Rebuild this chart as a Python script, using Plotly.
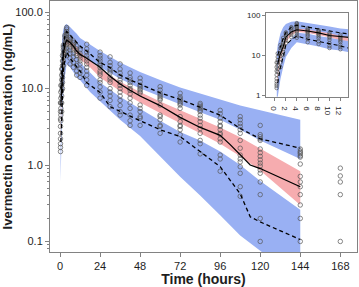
import plotly.graph_objects as go

# ---- simulated prediction bands (VPC) ----
band_t = [0.33, 0.5, 1, 1.5, 2, 3, 4, 6, 8, 10, 12, 18, 24, 36, 48, 60, 72, 84, 96, 108, 120, 144]
p95_hi = [12, 18, 35, 50, 60, 68, 70, 64, 58, 52, 46, 38, 31, 22, 16.5, 13, 10.3, 8.6, 7.1, 6.0, 5.2, 3.9]
p95_lo = [3, 5, 12, 22, 30, 38, 40, 37, 33, 30, 27, 23, 19, 13.5, 10, 7.8, 6.2, 4.9, 3.9, 2.9, 2.1, 1.2]
p50_hi = [2.5, 4, 10, 17, 26, 38, 46, 43, 39, 35, 30, 23, 18, 12.3, 9.0, 6.8, 5.2, 4.0, 3.1, 2.3, 1.65, 0.83]
p50_lo = [1.8, 3, 7.5, 13, 21, 32, 38, 36, 32, 28, 24, 19, 14, 9.3, 6.6, 4.8, 3.5, 2.6, 1.9, 1.3, 0.85, 0.30]
p05_hi = [1.6, 2.5, 6, 11, 17, 26, 36, 34, 30, 26, 22, 16, 12, 7.8, 5.4, 3.8, 2.7, 2.1, 1.5, 1.0, 0.62, 0.26]
p05_lo = [0.6, 0.9, 2.5, 5, 9, 15, 21, 19, 16.5, 14, 13, 9, 6.8, 3.9, 2.4, 1.3, 0.7, 0.4, 0.22, 0.12, 0.075, 0.03]

# ---- observed percentiles ----
med_t = [0.5, 1, 1.5, 2, 3, 4, 6, 8, 10, 12, 16, 24, 30, 36, 42, 48, 60, 72, 84, 96, 102, 108, 114, 120, 144]
med_c = [6, 11, 16, 28, 38, 43, 40, 36, 31, 28, 25, 19, 14.5, 11.5, 9.5, 8.0, 6.0, 4.2, 3.1, 2.45, 1.85, 1.38, 1.0, 0.9, 0.52]
up_t = [0.5, 1, 1.5, 2, 3, 4, 6, 8, 10, 12, 16, 24, 30, 36, 42, 48, 60, 72, 84, 96, 108, 120, 144]
up_c = [10, 17, 26, 37, 50, 56, 50, 45, 40, 36, 31, 22, 18.8, 15, 13, 11.5, 8.8, 7.2, 5.7, 4.5, 3.0, 2.2, 1.66]
lo_t = [0.5, 1, 1.5, 2, 3, 4, 6, 8, 10, 12, 16, 24, 30, 36, 42, 48, 60, 72, 84, 96, 108, 114, 120, 144]
lo_c = [2.0, 5, 9, 18, 24, 30, 25, 22, 19, 17, 12, 8.9, 5.8, 5.0, 4.4, 3.8, 2.9, 2.35, 1.5, 0.95, 0.42, 0.21, 0.18, 0.106]

# ---- observed concentrations by nominal time ----
obs_times = [0.3, 0.5, 1, 1.5, 2, 3, 4, 6, 8, 10, 12, 16, 24, 30, 36, 42, 48, 60, 72, 84, 96, 108, 120, 144, 168]
obs_conc = [
    [1.5, 1.7, 1.9, 2.2, 2.6, 3.2, 4, 5, 6.5],
    [3.8, 4.5, 5.5, 6.5, 7.5, 9, 11],
    [5, 6.5, 8, 9.5, 11, 13, 15, 18],
    [10, 12, 14, 16, 18, 20, 23, 27],
    [20, 23, 26, 29, 32, 35, 37],
    [28, 32, 36, 40, 44, 48, 50],
    [27, 30, 34, 38, 41, 44, 47, 50, 53, 56, 60, 63],
    [21, 25, 29, 32, 35, 38, 40, 42, 44, 47],
    [19, 22, 26, 29, 32, 34, 36, 38, 40, 42],
    [15, 17, 20, 24, 27, 29, 31, 33, 36],
    [14, 16, 18, 21, 23, 25, 27, 29, 32],
    [38, 33, 30, 27, 25, 23, 21, 19, 17, 15, 13, 11],
    [30, 27, 25, 23, 21, 20, 19, 17, 16, 15, 13, 12, 10.5, 9, 7.5],
    [26, 22, 20, 18, 17, 16, 14, 13, 12, 10, 9, 8, 7, 5.8],
    [21, 18, 16, 14.5, 13, 12, 11, 10, 9, 8, 7, 6, 5, 4.5],
    [16, 14, 13, 12, 11, 10, 9.5, 8.5, 7.5, 6.5, 5.5, 4.5, 3.8, 3.3],
    [13.7, 12.3, 11.1, 10.6, 10.0, 9.6, 9.1, 8.7, 6.1, 5.5, 5.0, 4.3, 4.1, 3.3],
    [10.6, 9.6, 8.7, 8.2, 7.8, 7.4, 7.1, 6.1, 4.5, 4.3, 3.9, 3.3, 3.2, 2.6],
    [8.7, 7.8, 7.4, 7.1, 6.7, 6.4, 6.1, 5.5, 4.3, 3.7, 3.3, 3.2, 2.9, 2.5, 2.0],
    [6.4, 6.1, 5.8, 5.5, 5.2, 5.0, 4.5, 4.1, 3.7, 3.3, 3.0, 2.6, 2.1, 1.9, 1.4],
    [5.2, 4.7, 4.1, 3.7, 3.3, 3.2, 2.9, 2.6, 2.5, 2.2, 2.0, 1.35, 1.2, 0.83],
    [4.3, 3.9, 3.5, 3.2, 2.9, 2.6, 2.1, 1.66, 1.35, 1.2, 1.1, 0.95, 0.78, 0.52, 0.39],
    [3.3, 2.5, 2.35, 2.2, 2.1, 1.62, 1.45, 1.3, 1.17, 1.06, 0.97, 0.86, 0.78, 0.60, 0.41, 0.2, 0.1],
    [1.62, 1.52, 1.46, 1.40, 1.32, 1.27, 1.03, 0.71, 0.60, 0.52, 0.41, 0.30, 0.20, 0.10],
    [0.91, 0.72, 0.60, 0.41, 0.10],
]

x_ticks = [0, 24, 48, 72, 96, 120, 144, 168]
y_ticks = [0.1, 1, 10, 100]
y_ticktext = ["0.1", "1.0", "10.0", "100.0"]
inset_x_ticks = [0, 2, 4, 6, 8, 10, 12]
inset_y_ticks = [1, 10, 100]
inset_y_ticktext = ["1", "10", "100"]

BLUE = "rgb(153,176,243)"
RED = "rgb(246,172,175)"
AX = "rgb(130,130,130)"
MK = "rgb(85,85,85)"
FONT = "Liberation Sans, Arial, sans-serif"

ox, oy = [], []
for t, cs in zip(obs_times, obs_conc):
    ox += [t] * len(cs)
    oy += cs

fig = go.Figure()


def add_all(xa, ya, msize, lw):
    for hi, lo, col in [(p95_hi, p95_lo, BLUE), (p05_hi, p05_lo, BLUE), (p50_hi, p50_lo, RED)]:
        fig.add_trace(go.Scatter(x=band_t + band_t[::-1], y=hi + lo[::-1], fill="toself",
                                 fillcolor=col, line=dict(width=0), mode="lines",
                                 hoverinfo="skip", xaxis=xa, yaxis=ya, showlegend=False))
    fig.add_trace(go.Scatter(x=ox, y=oy, mode="markers", xaxis=xa, yaxis=ya, showlegend=False,
                             marker=dict(symbol="circle-open", size=msize, color=MK, line=dict(width=0.7))))
    fig.add_trace(go.Scatter(x=med_t, y=med_c, mode="lines", xaxis=xa, yaxis=ya, showlegend=False,
                             line=dict(color="black", width=lw)))
    for tt, cc in [(up_t, up_c), (lo_t, lo_c)]:
        fig.add_trace(go.Scatter(x=tt, y=cc, mode="lines", xaxis=xa, yaxis=ya, showlegend=False,
                                 line=dict(color="black", width=lw, dash="4px,3px")))


add_all("x", "y", 4.5, 1.3)
add_all("x2", "y2", 3.5, 1.1)

minor_vals = [k * 10 ** e for e in (-2, -1, 0, 1, 2) for k in range(2, 10)]

fig.update_layout(
    width=359, height=287,
    margin=dict(l=50, r=2, t=1, b=35, autoexpand=False),
    paper_bgcolor="white", plot_bgcolor="white",
    font=dict(family=FONT, color="rgb(30,30,30)", size=11),
    xaxis=dict(range=[-6, 178], tickvals=x_ticks, ticks="outside", ticklen=4, tickcolor=AX,
               showline=True, linecolor=AX, linewidth=1, mirror=True, showgrid=False, zeroline=False,
               tickfont=dict(size=11), automargin=False,
               title=dict(text="<b>Time (hours)</b>", font=dict(size=14), standoff=1)),
    yaxis=dict(type="log", range=[-1.138, 2.146], tickvals=y_ticks, ticktext=y_ticktext,
               ticks="outside", ticklen=4, tickcolor=AX, automargin=False,
               minor=dict(tickvals=minor_vals, ticks="outside", ticklen=2, tickcolor=AX, showgrid=False),
               showline=True, linecolor=AX, linewidth=1, mirror=True, showgrid=False, zeroline=False,
               tickfont=dict(size=11),
               title=dict(text="<b>Ivermectin concentration (ng/mL)</b>", font=dict(size=13), standoff=3)),
    xaxis2=dict(domain=[0.7036, 0.9707], anchor="y2", range=[-1.65, 13.4], tickvals=inset_x_ticks,
                ticks="outside", ticklen=3, tickcolor=AX, showline=True, linecolor=AX, linewidth=1,
                mirror=True, showgrid=False, zeroline=False, tickfont=dict(size=8)),
    yaxis2=dict(domain=[0.6187, 0.9534], anchor="x2", type="log", range=[-0.04, 2.06],
                tickvals=inset_y_ticks, ticktext=inset_y_ticktext, ticks="outside", ticklen=3,
                tickcolor=AX, showline=True, linecolor=AX, linewidth=1, mirror=True, showgrid=False,
                zeroline=False, tickfont=dict(size=8)),
)

fig.write_html("out.html", config={"displayModeBar": False},
               post_script="document.body.style.margin='0';document.documentElement.style.margin='0';")
